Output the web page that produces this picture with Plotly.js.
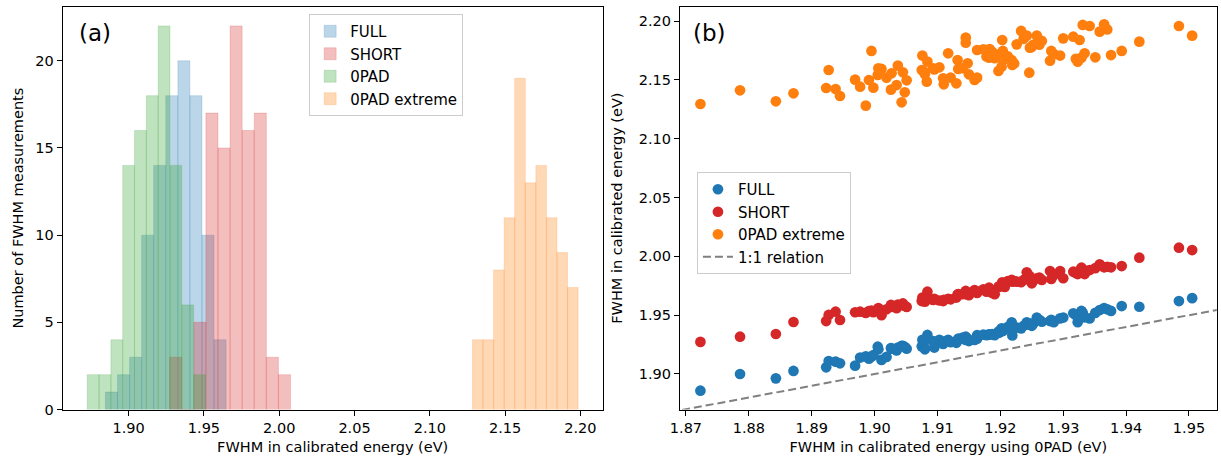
<!DOCTYPE html>
<html>
<head>
<meta charset="utf-8">
<script src="https://cdn.plot.ly/plotly-3.0.1.min.js"></script>
<style>html,body{margin:0;padding:0;background:#fff}#chart{width:1221px;height:457px}</style>
</head>
<body>
<div id="chart"></div>
<script>
// ---------- Panel (a): histogram counts (10 bins each) ----------
const histNames = ["FULL", "SHORT", "0PAD", "0PAD extreme"];
const histColors = ["rgba(31,119,180,0.3)", "rgba(214,39,40,0.3)", "rgba(44,160,44,0.3)", "rgba(255,127,14,0.3)"];
const binStart = [1.8846, 1.9272, 1.8725, 2.1283];
const binWidth = [0.00801, 0.00803, 0.00785, 0.00702];
const countsFULL  = [1, 2, 3, 10, 14, 18, 20, 18, 10, 4];
const countsSHORT = [3, 0, 5, 17, 15, 22, 16, 17, 3, 2];
const counts0PAD  = [2, 2, 4, 14, 16, 18, 22, 14, 6, 2];
const countsEXT   = [4, 4, 8, 11, 19, 13, 14, 11, 9, 7];
const histCounts = [countsFULL, countsSHORT, counts0PAD, countsEXT];

// ---------- Panel (b): scatter values ----------
const x0PAD = [1.8723,1.8786,1.8843,1.8871,1.8923,1.8927,1.8938,1.8945,1.8969,1.8977,
1.8986,1.8991,1.8995,1.8998,1.9005,1.9006,1.9011,1.9019,1.9026,1.9027,
1.9035,1.9037,1.9043,1.9045,1.9048,1.9051,1.9075,1.9076,1.9079,1.9080,
1.9083,1.9084,1.9093,1.9095,1.9103,1.9109,1.9110,1.9117,1.9121,1.9130,
1.9132,1.9133,1.9140,1.9145,1.9145,1.9148,1.9150,1.9159,1.9163,1.9163,
1.9173,1.9178,1.9182,1.9183,1.9187,1.9191,1.9197,1.9198,1.9200,1.9202,
1.9203,1.9204,1.9207,1.9212,1.9218,1.9219,1.9222,1.9226,1.9233,1.9237,
1.9242,1.9246,1.9247,1.9250,1.9252,1.9258,1.9262,1.9266,1.9279,1.9281,
1.9285,1.9295,1.9300,1.9316,1.9320,1.9323,1.9326,1.9329,1.9331,1.9334,
1.9342,1.9351,1.9358,1.9365,1.9370,1.9376,1.9393,1.9421,1.9484,1.9505];
const yFULL = [1.8858,1.9000,1.8963,1.9026,1.9057,1.9110,1.9105,1.9091,1.9071,1.9140,
1.9150,1.9130,1.9150,1.9160,1.9232,1.9210,1.9120,1.9145,1.9220,1.9215,
1.9200,1.9225,1.9240,1.9240,1.9230,1.9215,1.9235,1.9290,1.9230,1.9210,
1.9300,1.9332,1.9280,1.9225,1.9290,1.9255,1.9275,1.9290,1.9270,1.9265,
1.9285,1.9300,1.9310,1.9317,1.9290,1.9300,1.9280,1.9289,1.9300,1.9330,
1.9335,1.9330,1.9337,1.9335,1.9340,1.9330,1.9360,1.9350,1.9370,1.9388,
1.9375,1.9365,1.9380,1.9400,1.9440,1.9328,1.9400,1.9395,1.9388,1.9410,
1.9440,1.9420,1.9430,1.9410,1.9425,1.9480,1.9460,1.9445,1.9450,1.9460,
1.9440,1.9473,1.9480,1.9516,1.9500,1.9440,1.9510,1.9536,1.9520,1.9482,
1.9473,1.9520,1.9544,1.9560,1.9550,1.9536,1.9578,1.9572,1.9620,1.9645];
const ySHORT = [1.9273,1.9317,1.9340,1.9442,1.9450,1.9502,1.9530,1.9459,1.9525,1.9530,
1.9520,1.9535,1.9540,1.9525,1.9545,1.9560,1.9500,1.9550,1.9587,1.9570,
1.9560,1.9590,1.9585,1.9600,1.9580,1.9570,1.9620,1.9650,1.9640,1.9615,
1.9660,1.9700,1.9630,1.9640,1.9625,1.9620,1.9630,1.9640,1.9635,1.9650,
1.9676,1.9680,1.9678,1.9706,1.9680,1.9690,1.9670,1.9714,1.9700,1.9690,
1.9720,1.9700,1.9734,1.9725,1.9690,1.9678,1.9740,1.9745,1.9750,1.9750,
1.9780,1.9748,1.9740,1.9790,1.9800,1.9785,1.9790,1.9785,1.9780,1.9800,
1.9865,1.9836,1.9800,1.9771,1.9790,1.9814,1.9820,1.9800,1.9876,1.9808,
1.9840,1.9876,1.9814,1.9870,1.9860,1.9850,1.9880,1.9904,1.9890,1.9850,
1.9884,1.9900,1.9933,1.9907,1.9912,1.9907,1.9918,1.9989,2.0074,2.0054];
const yEXT = [2.1296,2.1412,2.1319,2.1387,2.1432,2.1585,2.1423,2.1364,2.1503,2.1443,
2.1282,2.1500,2.1747,2.1435,2.1543,2.1600,2.1594,2.1520,2.1418,2.1557,
2.1457,2.1622,2.1310,2.1565,2.1395,2.1497,2.1585,2.1708,2.1570,2.1548,
2.1486,2.1656,2.1600,2.1590,2.1608,2.1514,2.1463,2.1727,2.1520,2.1472,
2.1670,2.1594,2.1600,2.1860,2.1817,2.1642,2.1548,2.1500,2.1520,2.1755,
2.1761,2.1700,2.1690,2.1763,2.1740,2.1685,2.1577,2.1719,2.1690,2.1613,
2.1840,2.1747,2.1679,2.1700,2.1670,2.1628,2.1640,2.1803,2.1917,2.1850,
2.1877,2.1562,2.1775,2.1780,2.1798,2.1877,2.1800,2.1832,2.1664,2.1747,
2.1720,2.1708,2.1854,2.1868,2.1680,2.1656,2.1840,2.1690,2.1968,2.1727,
2.1959,2.1693,2.1911,2.1974,2.1930,2.1712,2.1747,2.1826,2.1959,2.1877];
const scatterNames = ["FULL", "SHORT", "0PAD extreme"];
const scatterColors = ["#1f77b4", "#d62728", "#ff7f0e"];
const lineX = [1.86, 1.96];   // 1:1 relation

const FONT = "DejaVu Sans";
const FS = 14.5;
const LFS = 15;
const traces = [];

histCounts.forEach((c, k) => {
  const centers = c.map((_, i) => binStart[k] + (i + 0.5) * binWidth[k]);
  traces.push({
    type: "bar", x: centers, y: c, width: c.map(() => binWidth[k]),
    name: histNames[k], xaxis: "x", yaxis: "y", legend: "legend",
    marker: {color: histColors[k], line: {color: histColors[k], width: 0.6}},
    hoverinfo: "skip"
  });
});

[yFULL, ySHORT, yEXT].forEach((ys, k) => {
  traces.push({
    type: "scatter", mode: "markers", x: x0PAD, y: ys, name: scatterNames[k],
    xaxis: "x2", yaxis: "y2", legend: "legend2",
    marker: {color: scatterColors[k], size: 10.7, line: {width: 0}},
    hoverinfo: "skip"
  });
});
traces.push({
  type: "scatter", mode: "lines", x: lineX, y: lineX, name: "1:1 relation",
  xaxis: "x2", yaxis: "y2", legend: "legend2",
  line: {color: "#808080", width: 2, dash: "8px,4px"}, hoverinfo: "skip"
});

const axisCommon = {
  showline: true, mirror: true, linecolor: "#000", linewidth: 1,
  ticks: "outside", ticklen: 5, tickwidth: 1, tickcolor: "#000",
  showgrid: false, zeroline: false, automargin: false,
  tickfont: {family: FONT, size: FS, color: "#000"}
};
const titleFont = {family: FONT, size: FS, color: "#000"};
const yDom = [0.1039, 0.9853];

const layout = {
  width: 1221, height: 457,
  margin: {l: 0, r: 0, t: 0, b: 0},
  paper_bgcolor: "#fff", plot_bgcolor: "#fff",
  font: {family: FONT, size: FS, color: "#000"},
  barmode: "overlay", bargap: 0,
  showlegend: true,
  xaxis: Object.assign({}, axisCommon, {
    domain: [0.05135, 0.4936], range: [1.8562, 2.2148], anchor: "y",
    tick0: 1.9, dtick: 0.05, tickformat: ".2f",
    title: {text: "FWHM in calibrated energy (eV)", font: titleFont, standoff: 6}
  }),
  yaxis: Object.assign({}, axisCommon, {
    domain: yDom, range: [0, 23.1], anchor: "x", tick0: 0, dtick: 5,
    title: {text: "Number of FWHM measurements", font: titleFont, standoff: 8}
  }),
  xaxis2: Object.assign({}, axisCommon, {
    domain: [0.5569, 0.9965], range: [1.86905, 1.95441], anchor: "y2",
    tick0: 1.87, dtick: 0.01, tickformat: ".2f",
    title: {text: "FWHM in calibrated energy using 0PAD (eV)", font: titleFont, standoff: 6}
  }),
  yaxis2: Object.assign({}, axisCommon, {
    domain: yDom, range: [1.8698, 2.2123], anchor: "x2",
    tick0: 1.9, dtick: 0.05, tickformat: ".2f",
    title: {text: "FWHM in calibrated energy (eV)", font: titleFont, standoff: 12}
  }),
  legend: {
    x: 0.2532, y: 0.9694, xanchor: "left", yanchor: "top",
    bgcolor: "rgba(255,255,255,0.8)", bordercolor: "#cccccc", borderwidth: 1,
    font: {family: FONT, size: LFS, color: "#000"}, tracegroupgap: 0, traceorder: "normal"
  },
  legend2: {
    x: 0.5708, y: 0.6236, xanchor: "left", yanchor: "top",
    bgcolor: "rgba(255,255,255,0.8)", bordercolor: "#cccccc", borderwidth: 1,
    font: {family: FONT, size: LFS, color: "#000"}, tracegroupgap: 0, traceorder: "normal"
  },
  annotations: [
    {text: "(a)", xref: "paper", yref: "paper", x: 0.0630, y: 0.9278,
     xanchor: "left", yanchor: "middle", showarrow: false,
     font: {family: FONT, size: 23, color: "#000"}},
    {text: "(b)", xref: "paper", yref: "paper", x: 0.5662, y: 0.9278,
     xanchor: "left", yanchor: "middle", showarrow: false,
     font: {family: FONT, size: 23, color: "#000"}}
  ]
};

Plotly.newPlot("chart", traces, layout, {displayModeBar: false, staticPlot: true});
</script>
</body>
</html>
